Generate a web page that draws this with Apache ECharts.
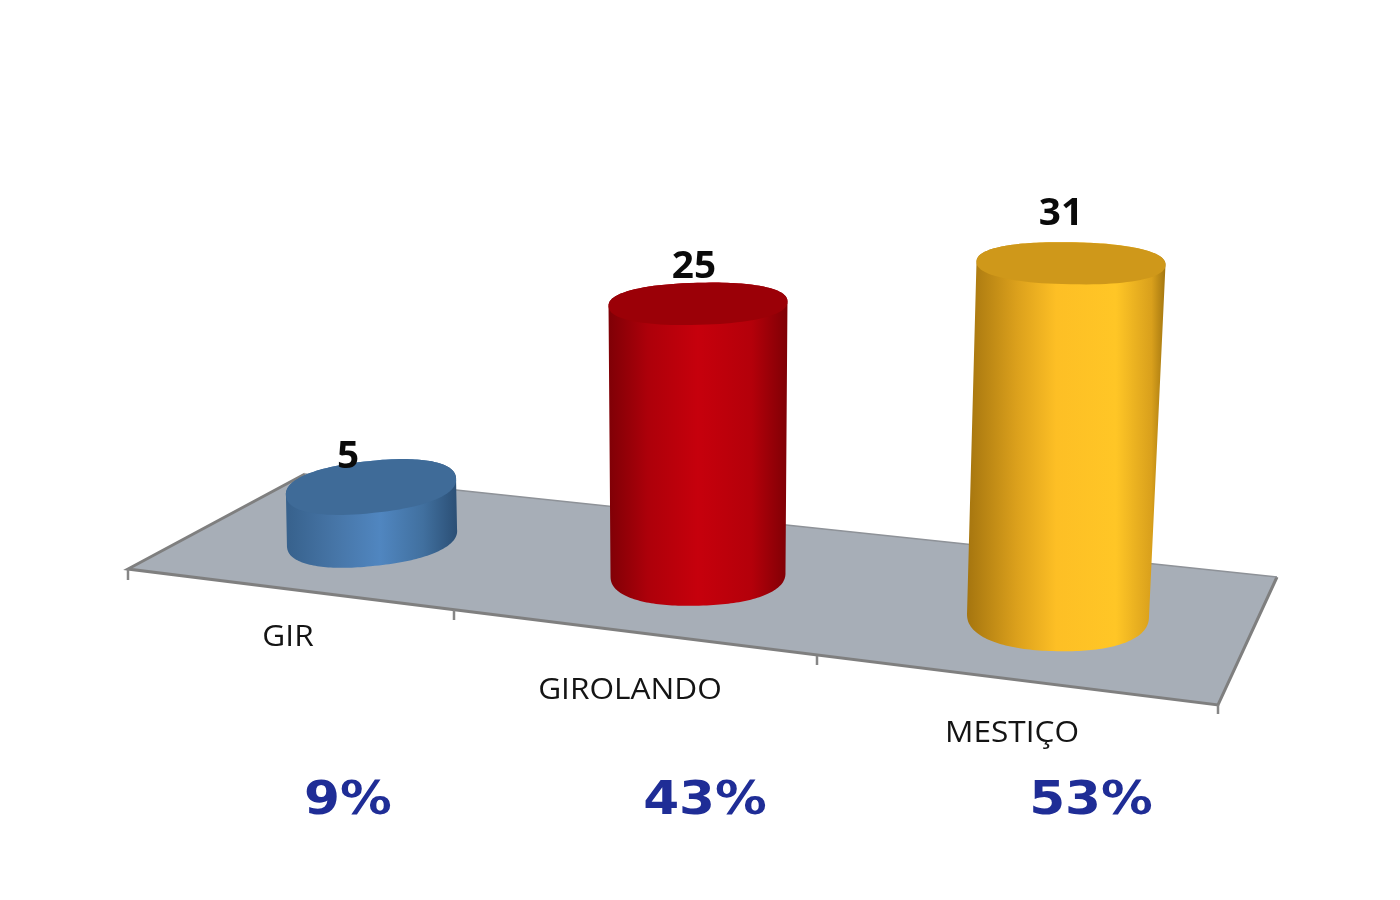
<!DOCTYPE html>
<html>
<head>
<meta charset="utf-8">
<style>html,body{margin:0;padding:0;background:#fff}#c{width:1400px;height:900px}</style>
<script src="https://cdn.jsdelivr.net/npm/echarts@6/dist/echarts.min.js"></script>
</head>
<body>
<div id="c"></div>
<script>
// ---- data ----
var categories = ['GIR', 'GIROLANDO', 'MESTIÇO'];
var counts = [5, 25, 31];
var shares = ['9%', '43%', '53%'];

// ---- styles ----
var topColors = ['#3f6b98', '#9b0007', '#cf981a'];
var bodyStops = [
  [[0, '#37618c'], [0.3, '#4776a8'], [0.55, '#5086c0'], [0.8, '#41709f'], [1, '#2b4f75']],
  [[0, '#7f0006'], [0.22, '#ad000a'], [0.5, '#c6000c'], [0.8, '#b4000a'], [1, '#7f0005']],
  [[0, '#a5750f'], [0.25, '#dba01c'], [0.45, '#fdbf25'], [0.75, '#ffc626'], [0.93, '#d9a01c'], [1, '#a37610']]
];

// ---- 3D projection of the chart (per-category perspective) ----
var shear = 0.1125;
var spreadX = [0, -17, 0];
var heightScale = [0.927, 0.985, 1.032];
var leanX = [-1, 0, 13];
var tilt = [-6, -1.5, 1];
var topRadius = [[85.5, 26], [89.5, 21], [94.5, 21]];
var baseRadius = [[85.5, 28], [87.5, 31], [91, 36]];
var countOffset = [[-23, -30], [-4, -37], [-10, -49]];
var categoryOffset = [[-84, 100], [-68, 116], [-46, 119]];
var shareOffset = [[-24, 264], [7, 227], [33, 187]];
var roundness = 0.88;

function fuller(c) { return (c < 0 ? -1 : 1) * Math.pow(Math.abs(c), roundness); }
function ellipsePoint(c, r, deg, t) {
  var a = deg * Math.PI / 180;
  var ex = r[0] * fuller(Math.cos(t)), ey = r[1] * fuller(Math.sin(t));
  return [c[0] + ex * Math.cos(a) - ey * Math.sin(a), c[1] + ex * Math.sin(a) + ey * Math.cos(a)];
}
function ellipseArc(c, r, deg, from, to) {
  var pts = [], n = 96;
  for (var k = 0; k <= n; k++) pts.push(ellipsePoint(c, r, deg, from + (to - from) * k / n));
  return pts;
}
function label(x, y, text, font, color, stretch) {
  return {
    type: 'text', x: x, y: y, scaleX: stretch, z2: 20,
    style: {
      x: 0, y: 0, text: text, fill: color, font: font,
      textAlign: 'center', textVerticalAlign: 'middle'
    }
  };
}

function renderCylinder(params, api) {
  var i = api.value(0), v = api.value(1);
  var origin = api.coord([0, 0]);
  var p0 = api.coord([i, 0]), pv = api.coord([i, v]);
  var bx = p0[0] + spreadX[i];
  var by = p0[1] + shear * (bx - origin[0]);
  var base = [bx, by];
  var top = [bx + leanX[i], by - (p0[1] - pv[1]) * heightScale[i]];
  var rt = topRadius[i], rb = baseRadius[i];
  var body = ellipseArc(top, rt, tilt[i], Math.PI, 2 * Math.PI)
    .concat(ellipseArc(base, rb, tilt[i], 0, Math.PI));
  var stops = bodyStops[i].map(function (s) { return { offset: s[0], color: s[1] }; });
  return {
    type: 'group',
    children: [
      {
        type: 'polygon', shape: { points: body },
        style: { fill: new echarts.graphic.LinearGradient(0, 0, 1, 0, stops) }
      },
      {
        type: 'polygon', shape: { points: ellipseArc(top, rt, tilt[i], 0, 2 * Math.PI) },
        style: { fill: topColors[i] }
      },
      label(top[0] + countOffset[i][0], top[1] + countOffset[i][1], String(v),
        'bold 38px "Open Sans"', '#0a0a0a', 1.02),
      label(base[0] + categoryOffset[i][0], base[1] + categoryOffset[i][1], categories[i],
        '29px "Open Sans"', '#141414', 1.09),
      label(base[0] + shareOffset[i][0], base[1] + shareOffset[i][1], shares[i],
        'bold 47px "DejaVu Sans"', '#1f2d96', 1.1)
    ]
  };
}

var tickStyle = { stroke: '#868686', lineWidth: 2.5 };
var chart = echarts.init(document.getElementById('c'), null, { renderer: 'canvas' });
chart.setOption({
  backgroundColor: '#ffffff',
  animation: false,
  grid: { left: 200.5, width: 1029, top: 98, height: 440 },
  xAxis: { type: 'category', data: categories, show: false },
  yAxis: { type: 'value', min: 0, max: 40, show: false },
  graphic: [
    {
      type: 'polygon', z: 0,
      shape: { points: [[128, 569], [305, 474], [1277, 577], [1218, 705]] },
      style: { fill: '#a7aeb7' }
    },
    {
      type: 'polyline', z: 1,
      shape: { points: [[305, 474], [128, 569], [1218, 705], [1277, 577]] },
      style: { stroke: '#7f7f7f', lineWidth: 3, fill: null }
    },
    {
      type: 'polyline', z: 1,
      shape: { points: [[305, 474], [1277, 577]] },
      style: { stroke: '#8e9298', lineWidth: 1.5, fill: null }
    },
    { type: 'line', z: 1, shape: { x1: 128, y1: 569, x2: 128, y2: 580 }, style: tickStyle },
    { type: 'line', z: 1, shape: { x1: 454, y1: 610, x2: 454, y2: 620 }, style: tickStyle },
    { type: 'line', z: 1, shape: { x1: 817, y1: 656, x2: 817, y2: 665 }, style: tickStyle },
    { type: 'line', z: 1, shape: { x1: 1218, y1: 705, x2: 1218, y2: 714 }, style: tickStyle }
  ],
  series: [{
    type: 'custom',
    clip: false,
    silent: true,
    coordinateSystem: 'cartesian2d',
    renderItem: renderCylinder,
    encode: { x: 0, y: 1 },
    data: counts.map(function (v, i) { return [i, v]; })
  }]
});
</script>
</body>
</html>
